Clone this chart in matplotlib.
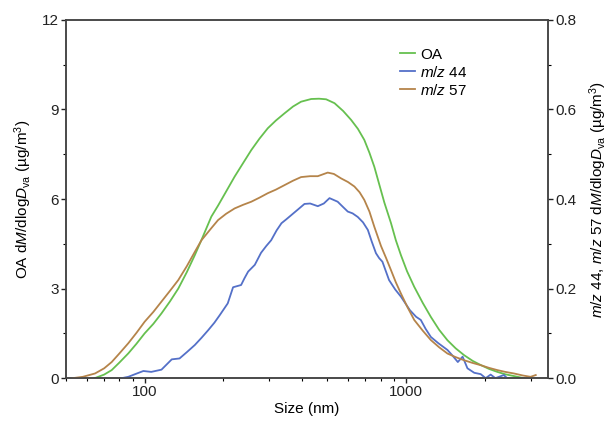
import matplotlib
matplotlib.use("Agg")
import matplotlib.pyplot as plt
from matplotlib.ticker import FixedLocator, MultipleLocator, NullFormatter, FuncFormatter, LogLocator

plt.rcParams['font.family'] = ['Liberation Sans', 'DejaVu Sans']
plt.rcParams['mathtext.fontset'] = 'custom'
plt.rcParams['mathtext.rm'] = 'Liberation Sans'
plt.rcParams['mathtext.it'] = 'Liberation Sans:italic'
plt.rcParams['mathtext.bf'] = 'Liberation Sans:bold'

# OA (left axis)
oa_size = [64.4, 70, 74.8, 80, 86.6, 93, 100, 108, 116, 125, 134.5, 145, 155.6, 165, 180, 191,
           205, 221, 238, 256, 275, 296, 318, 343, 370, 397, 434, 465, 495, 533, 575, 617,
           655, 693, 725, 757, 790, 827, 877, 915, 957, 1010, 1076, 1160, 1246, 1340, 1442,
           1550, 1670, 1800, 1933, 2080, 2238, 2400, 2590, 2830]
oa_val = [0.0, 0.12, 0.27, 0.52, 0.83, 1.15, 1.50, 1.82, 2.17, 2.57, 3.0, 3.55, 4.12, 4.63,
          5.41, 5.78, 6.25, 6.75, 7.2, 7.64, 8.02, 8.37, 8.63, 8.87, 9.1, 9.26, 9.35, 9.36,
          9.34, 9.21, 8.95, 8.65, 8.35, 7.98, 7.55, 7.08, 6.5, 5.88, 5.19, 4.62, 4.12, 3.58,
          3.06, 2.52, 2.05, 1.62, 1.27, 1.0, 0.77, 0.58, 0.44, 0.31, 0.21, 0.13, 0.07, 0.0]

# m/z 44 (right axis)
mz44_size = [81.7, 86.6, 92, 98.9, 106, 116, 127, 136, 145, 155.6, 165, 175, 185, 194, 208,
             218, 234, 241, 249, 264, 279, 292, 305, 320, 334, 349, 364, 385, 409, 430, 460,
             485, 510, 548, 575, 599, 625, 654, 685, 715, 740, 768, 790, 813, 862, 910, 957,
             1035, 1094, 1140, 1190, 1246, 1331, 1442, 1510, 1580, 1648, 1720, 1826, 1933,
             2020, 2110, 2200, 2370, 2440]
mz44_val = [0.0, 0.003, 0.009, 0.016, 0.014, 0.019, 0.042, 0.044, 0.058, 0.074, 0.09, 0.107,
            0.124, 0.141, 0.167, 0.203, 0.208, 0.223, 0.238, 0.253, 0.280, 0.295, 0.308, 0.33,
            0.346, 0.355, 0.364, 0.376, 0.389, 0.39, 0.384, 0.39, 0.402, 0.394, 0.382, 0.372,
            0.368, 0.360, 0.348, 0.331, 0.305, 0.279, 0.268, 0.260, 0.219, 0.198, 0.182,
            0.152, 0.137, 0.130, 0.11, 0.092, 0.078, 0.063, 0.05, 0.036, 0.048, 0.022, 0.012,
            0.009, 0.0, 0.008, 0.0, 0.007, 0.0]

# m/z 57 (right axis)
mz57_size = [53, 58, 64.6, 70, 74.8, 80, 86.6, 93, 100, 108, 116, 125, 134.5, 145, 155.6,
             165, 180, 191, 205, 221, 238, 256, 275, 296, 318, 343, 370, 397, 430, 460, 502,
             530, 565, 600, 635, 665, 693, 725, 757, 803, 840, 877, 915, 957, 1015, 1076,
             1160, 1246, 1340, 1442, 1550, 1670, 1800, 1933, 2080, 2238, 2400, 2590, 2800,
             3000, 3140]
mz57_val = [0.0, 0.003, 0.0105, 0.022, 0.036, 0.055, 0.078, 0.101, 0.126, 0.148, 0.171, 0.195,
            0.219, 0.250, 0.282, 0.308, 0.335, 0.353, 0.367, 0.379, 0.387, 0.394, 0.403, 0.413,
            0.421, 0.431, 0.441, 0.449, 0.451, 0.451, 0.459, 0.456, 0.446, 0.438, 0.428, 0.415,
            0.398, 0.372, 0.338, 0.295, 0.268, 0.241, 0.214, 0.189, 0.158, 0.130, 0.106,
            0.085, 0.069, 0.055, 0.047, 0.040, 0.034, 0.029, 0.023, 0.018, 0.014, 0.0105,
            0.006, 0.003, 0.007]

c_oa = '#66c04f'
c_44 = '#5470c8'
c_57 = '#b5844a'

fig = plt.figure(figsize=(6.11, 4.23), dpi=100)
ax = fig.add_axes([0.108, 0.106, 0.789, 0.847])
ax2 = ax.twinx()

l1, = ax.plot(oa_size, oa_val, color=c_oa, lw=1.3, label='OA')
l2, = ax2.plot(mz44_size, mz44_val, color=c_44, lw=1.3, label='$m/z$ 44')
l3, = ax2.plot(mz57_size, mz57_val, color=c_57, lw=1.3, label='$m/z$ 57')

ax.set_xscale('log')
ax.set_xlim(50, 3500)
ax.set_ylim(0, 12)
ax2.set_ylim(0, 0.8)

ax.xaxis.set_major_locator(FixedLocator([100, 1000]))
ax.xaxis.set_major_formatter(FuncFormatter(lambda v, p: f'{int(v)}'))
ax.xaxis.set_minor_locator(LogLocator(base=10, subs=range(2, 10)))
ax.xaxis.set_minor_formatter(NullFormatter())

ax.yaxis.set_major_locator(MultipleLocator(3))
ax.yaxis.set_minor_locator(MultipleLocator(1.5))
ax2.yaxis.set_major_locator(MultipleLocator(0.2))
ax2.yaxis.set_minor_locator(MultipleLocator(0.1))
ax2.yaxis.set_major_formatter(FuncFormatter(lambda v, p: f'{v:.1f}'))

for a in (ax, ax2):
    a.tick_params(which='major', direction='out', length=3.5, width=1, labelsize=11, pad=1.5, colors='#222222')
    a.tick_params(which='minor', direction='out', length=2, width=0.8)
    for s in a.spines.values():
        s.set_linewidth(1.1)
        s.set_color('#444444')

ax.set_xlabel('Size (nm)', fontsize=11, labelpad=2)
ax.set_ylabel(r'OA d$M$/dlog$D_{\mathrm{va}}$ (µg/m$^3$)', fontsize=11, labelpad=6)
ax2.set_ylabel(r'$m/z$ 44, $m/z$ 57 d$M$/dlog$D_{\mathrm{va}}$ (µg/m$^3$)', fontsize=11,
               rotation=90, labelpad=8)

fig.legend(handles=[l1, l2, l3], loc='upper left', bbox_to_anchor=(0.645, 0.902),
           frameon=False, fontsize=11, handlelength=1.0, handletextpad=0.3,
           labelspacing=0.2, borderaxespad=0)

fig.savefig('out.png', dpi=100)
